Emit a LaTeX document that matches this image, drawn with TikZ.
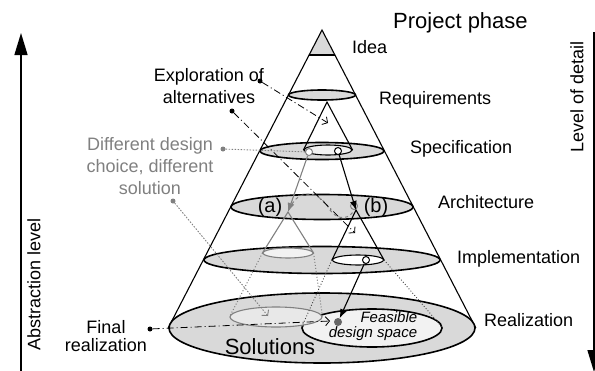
\documentclass[tikz,border=0pt]{standalone}
\usepackage{fontspec}
\setmainfont{Liberation Sans}
\usetikzlibrary{shapes.geometric,arrows.meta,positioning,backgrounds}
\definecolor{discfill}{gray}{0.85}
\definecolor{lightfill}{gray}{0.95}
\definecolor{solfill}{gray}{0.91}
\definecolor{midgray}{gray}{0.5}

\begin{document}
\begin{tikzpicture}[x=1pt,y=-1pt,
  lbl/.style={font=\fontsize{18}{22}\selectfont,inner sep=0pt},
  disc/.style={ellipse,draw,line width=1.6pt,fill=discfill,inner sep=0pt},
  subdisc/.style={ellipse,draw,line width=1.1pt,inner sep=0pt},
  cone/.style={line width=1.1pt},
  ring/.style={circle,draw,line width=1pt,fill=white,inner sep=0pt,minimum size=7pt},
  ldot/.style={circle,fill,inner sep=0pt,minimum size=5pt},
  explore/.style={line width=0.8pt,dash pattern=on 7pt off 3pt on 1pt off 3pt,-{Straight Barb[length=4pt,width=9pt]}},
  choice/.style={midgray,line width=0.9pt,dash pattern=on 1.5pt off 1.5pt}
]
\useasboundingbox (0,0) rectangle (595,370);

% phases of the big cone
\coordinate (apex) at (322,30);
\coordinate (ideaL) at (309,55);
\coordinate (ideaR) at (335,55);
\node[disc,minimum width=67pt,minimum height=10pt] (req) at (322,95) {};
\node[disc,minimum width=124pt,minimum height=17pt] (spec) at (322,151) {};
\node[disc,minimum width=182pt,minimum height=25pt] (arch) at (322,207) {};
\node[disc,minimum width=236pt,minimum height=27pt] (impl) at (322,260) {};
\node[disc,minimum width=306pt,minimum height=70pt] (sol) at (322,328) {};
\begin{scope}[on background layer]
\fill[discfill] (apex) -- (ideaL) -- (ideaR) -- cycle;
\draw[cone] (sol.west) -- (apex) -- (sol.east);
\end{scope}
\draw[cone] (ideaL) -- (ideaR);

% inner cones
\node[subdisc,fill=lightfill,minimum width=48pt,minimum height=10pt] (specin) at (328,150) {};
\coordinate (reqtip) at (327,102);
\draw[cone] (specin.west) -- (reqtip) -- (specin.east);

\node[disc,fill=lightfill,minimum width=140pt,minimum height=38pt] (feas) at (372,328) {};
\node[subdisc,draw=midgray,fill=solfill,minimum width=92pt,minimum height=20pt] (solA) at (276,317) {};
\node[subdisc,draw=midgray,fill=lightfill,minimum width=50pt,minimum height=10pt] (impA) at (288,253) {};
\node[subdisc,fill=white,minimum width=51pt,minimum height=10pt] (impB) at (358,260) {};

\node[ring,draw=midgray] (cA) at (309,152) {};
\node[ring] (cB) at (338,151) {};
\node[ring,draw=midgray,fill=none] (cBb) at (354,206) {};
\node[ring] (cI) at (366,260) {};
\node[ldot,fill=black!60,minimum size=8pt] (dF) at (338,322) {};
\coordinate (ptA) at (288,212);
\coordinate (ptB) at (356,210);
\coordinate (dA) at (292,204);

\draw[midgray,cone] (impA.west) -- (ptA) -- (impA.east);
\draw[cone] (impB.west) -- (ptB) -- (impB.east);
\draw[midgray,line width=1pt,dotted] (impA.west) -- (solA.west) (impA.east) -- (solA.east);
\draw[black!75,line width=0.9pt,dotted] (impB.west) -- (feas.west) (impB.east) -- (feas.east);
\draw[midgray,line width=1.1pt,-{Latex[length=9pt,width=7pt]}] (cA) -- (ptA);
\draw[line width=1.1pt,-{Latex[length=9pt,width=7pt]}] (cB) -- (ptB);
\draw[line width=1.1pt,-{Latex[length=9pt,width=7pt]}] (cI) -- (dF);
\draw[midgray,line width=1pt,dashed] (dA) .. controls (302,188) and (320,192) .. (330,210) .. controls (338,222) and (352,218) .. (cBb);

% pointers from the labels
\node[ldot] (e1) at (260,81) {};
\node[ldot] (e2) at (232,111) {};
\node[ldot] (f1) at (150,329) {};
\node[ldot,fill=midgray] (d1) at (223,149) {};
\node[ldot,fill=midgray] (d2) at (173,201) {};
\coordinate (e1end) at (328,123);
\coordinate (e2end) at (355,233);
\coordinate (f1end) at (330,321);
\coordinate (d2end) at (268,316);
\draw[explore] (e1) -- (e1end);
\draw[explore] (e2) -- (e2end);
\draw[explore] (f1) -- (f1end);
\draw[choice] (d1) -- (cA);
\draw[choice,-{Straight Barb[length=4pt,width=9pt]}] (d2) -- (d2end);

% texts
\node[lbl,anchor=base west,font=\fontsize{22}{26}\selectfont] (tPhase) at (393,28) {Project phase};
\node[lbl,anchor=base west] (tIdea) at (352,53) {Idea};
\node[lbl,anchor=base west] (tReq) at (379,104) {Requirements};
\node[lbl,anchor=base west] (tSpec) at (410,153) {Specification};
\node[lbl,anchor=base west] (tArch) at (438,208) {Architecture};
\node[lbl,anchor=base west] (tImpl) at (457,263) {Implementation};
\node[lbl,anchor=base west] (tReal) at (484,326) {Realization};
\node[lbl,align=center] (tExpl) at (209,86) {Exploration of\\alternatives};
\node[lbl,align=center,text=midgray] (tDiff) at (150,166) {Different design\\choice, different\\solution};
\node[lbl,align=center,font=\fontsize{18}{17.5}\selectfont] (tFinal) at (106,336) {Final\\realization};
\node[lbl,align=right,font=\fontsize{15}{15}\selectfont\itshape] (tFeas) at (373,326) {Feasible\\design space};
\node[lbl,font=\fontsize{22}{26}\selectfont] (tSol) at (270,347) {Solutions};
\node[lbl,font=\fontsize{20}{24}\selectfont] (tA) at (270,207) {(a)};
\node[lbl,font=\fontsize{20}{24}\selectfont] (tB) at (376,207) {(b)};

% axes
\coordinate (absBot) at (21,372);
\coordinate (absTop) at (21,33);
\coordinate (detTop) at (594,32);
\coordinate (detBot) at (594,372);
\draw[line width=1.4pt,-{Triangle[length=22pt,width=13pt]}] (absBot) -- (absTop);
\draw[line width=1.4pt,-{Triangle[length=22pt,width=13pt]}] (detTop) -- (detBot);
\node[lbl,rotate=90] (tAbs) at (34,284) {Abstraction level};
\node[lbl,rotate=90] (tDet) at (577,97) {Level of detail};
\end{tikzpicture}
\end{document}
